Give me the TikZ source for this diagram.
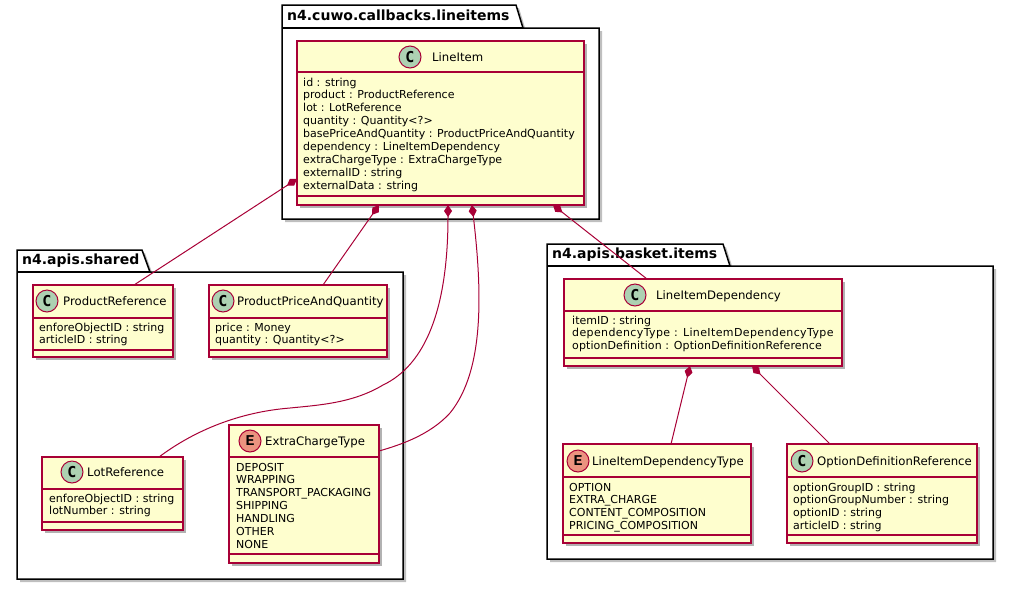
\documentclass[tikz,border=0pt]{standalone}
\usepackage{fontspec}
\setmainfont{DejaVu Sans}
\newfontfamily\circfont{DejaVu Sans Mono}
\newfontfamily\enumfont{Liberation Mono}
\usetikzlibrary{arrows.meta,shadows}
\definecolor{umlred}{HTML}{A80036}
\definecolor{umlfill}{HTML}{FEFECE}
\definecolor{cgreen}{HTML}{ADD1B2}
\definecolor{eorange}{HTML}{EB937F}
\tikzset{
  cbox/.style={draw=umlred, line width=1.5pt, fill=umlfill, inner sep=0pt, outer sep=0pt, anchor=north west,
    drop shadow={shadow xshift=3pt, shadow yshift=-3pt, fill=black, opacity=0.3}},
  cline/.style={draw=umlred, line width=1.5pt},
  circC/.style={circle, draw=umlred, line width=1pt, fill=cgreen, minimum size=22pt, inner sep=0pt,
    font=\circfont\bfseries\fontsize{15}{15}\selectfont},
  circE/.style={circle, draw=umlred, line width=1pt, fill=eorange, minimum size=22pt, inner sep=0pt,
    font=\enumfont\bfseries\fontsize{15}{15}\selectfont},
  cname/.style={anchor=base west, inner sep=0pt, font=\fontsize{11.7}{14}\selectfont},
  attr/.style={anchor=base west, inner sep=0pt, font=\fontsize{11}{13}\selectfont},
  pline/.style={draw=black, line width=1.5pt, line join=miter},
  ptitle/.style={anchor=base west, inner sep=0pt, font=\bfseries\fontsize{14}{16}\selectfont},
  comp/.style={draw=umlred, line width=1pt, arrows={Diamond[length=12pt,width=8pt]-}},
}
% package: #1 name, #2 title, #3 x1, #4 y1, #5 xt, #6 xs, #7 ytb, #8 x2, #9 y2
\newcommand\pkgbox[9]{%
  \fill[black, opacity=0.25, shift={(3,3)}] (#3,#7) -- (#3,#4) -- (#5,#4) -- (#6,#7) -- (#8,#7) -- (#8,#9) -- (#3,#9) -- cycle;
  \draw[pline, fill=white] (#3,#7) -- (#3,#4) -- (#5,#4) -- (#6,#7) -- (#8,#7) -- (#8,#9) -- (#3,#9) -- cycle;
  \draw[pline] (#3,#7) -- (#6,#7);
  \node[ptitle] (#1) at (#3+5,#7-7.5) {#2};
}
% class box: #1 name, #2 x1, #3 y1, #4 x2, #5 y2, #6 header bottom, #7 separator
\newcommand\clsbox[7]{%
  \node[cbox, minimum width={#4-#2}, minimum height={#5-#3}] (#1) at (#2,#3) {};
  \draw[cline] (#2,#6) -- (#4,#6);
  \draw[cline] (#2,#7) -- (#4,#7);
}
% attributes: #1 prefix, #2 x, #3 first baseline, #4 list
\newcommand\attrs[4]{%
  \foreach \t [count=\i from 0] in {#4} {\node[attr] (#1-\i) at (#2,#3+12.9*\i) {\t};}
}
\begin{document}
\begin{tikzpicture}[x=1pt,y=-1pt]
\useasboundingbox (0,0) rectangle (1014,590);

% packages
\pkgbox{pkgcuwo}{n4.cuwo.callbacks.lineitems}{282}{5}{516}{523}{28}{599}{219}
\pkgbox{pkgshared}{n4.apis.shared}{17}{250}{142}{150}{272}{403}{579}
\pkgbox{pkgbasket}{n4.apis.basket.items}{547}{244}{723}{730}{266}{993}{559}

% LineItem
\clsbox{li}{297}{41}{584}{205}{72}{196}
\node[circC] (li-c) at (410,57) {C};
\node[cname] (li-n) at (432,61.5) {LineItem};
\attrs{li-a}{303}{86}{id : string,product : ProductReference,lot : LotReference,quantity : Quantity<?>,basePriceAndQuantity : ProductPriceAndQuantity,dependency : LineItemDependency,extraChargeType : ExtraChargeType,externalID : string,externalData : string}

% ProductReference
\clsbox{pr}{33}{285}{173}{357}{318}{350}
\node[circC] (pr-c) at (47,301) {C};
\node[cname] (pr-n) at (63,305.5) {ProductReference};
\attrs{pr-a}{39}{331}{enforeObjectID : string,articleID : string}

% ProductPriceAndQuantity
\clsbox{ppq}{209}{285}{387}{357}{318}{350}
\node[circC] (ppq-c) at (223,301) {C};
\node[cname] (ppq-n) at (237,305.5) {ProductPriceAndQuantity};
\attrs{ppq-a}{215}{331}{price : Money,quantity : Quantity<?>}

% LotReference
\clsbox{lot}{42}{457}{183}{530}{489}{522}
\node[circC] (lot-c) at (72,472) {C};
\node[cname] (lot-n) at (87,476.5) {LotReference};
\attrs{lot-a}{49}{502}{enforeObjectID : string,lotNumber : string}

% ExtraChargeType
\clsbox{ect}{229}{425}{379}{563}{457}{554}
\node[circE] (ect-c) at (250,441) {E};
\node[cname] (ect-n) at (265,445.5) {ExtraChargeType};
\attrs{ect-a}{236}{471}{DEPOSIT,WRAPPING,TRANSPORT\_PACKAGING,SHIPPING,HANDLING,OTHER,NONE}

% LineItemDependency
\clsbox{lid}{564}{279}{842}{366}{311}{358}
\node[circC] (lid-c) at (635,295) {C};
\node[cname] (lid-n) at (656,299.5) {LineItemDependency};
\attrs{lid-a}{572}{324}{itemID : string,{\addfontfeature{LetterSpace=3.5}dependencyType : LineItemDependencyType},{\addfontfeature{LetterSpace=1}optionDefinition : OptionDefinitionReference}}

% LineItemDependencyType
\clsbox{lidt}{563}{444}{751}{543}{477}{535}
\node[circE] (lidt-c) at (578,461) {E};
\node[cname] (lidt-n) at (592,465.5) {LineItemDependencyType};
\attrs{lidt-a}{569}{491}{OPTION,EXTRA\_CHARGE,CONTENT\_COMPOSITION,PRICING\_COMPOSITION}

% OptionDefinitionReference
\clsbox{odr}{787}{444}{977}{543}{477}{535}
\node[circC] (odr-c) at (802,461) {C};
\node[cname] (odr-n) at (817,465.5) {OptionDefinitionReference};
\attrs{odr-a}{793}{491}{optionGroupID : string,optionGroupNumber : string,optionID : string,articleID : string}

% connectors (composition)
\draw[comp] ([yshift=26pt]li.south west) -- ([xshift=101pt]pr.north west);
\draw[comp] ([xshift=82pt]li.south west) -- ([xshift=114pt]ppq.north west);
\draw[comp] ([xshift=151pt]li.south west) .. controls (448,310) and (425,365) .. (383,385)
   .. controls (353,403) and (320,405) .. (290,408)
   .. controls (240,412) and (195,430) .. ([xshift=117pt]lot.north west);
\draw[comp] ([xshift=175pt]li.south west) .. controls (482,290) and (485,370) .. (450,413)
   .. controls (430,435) and (400,445) .. ([yshift=-26pt]ect.north east);
\draw[comp] ([xshift=256pt]li.south west) -- ([xshift=83pt]lid.north west);
\draw[comp] ([xshift=126pt]lid.south west) -- ([xshift=108pt]lidt.north west);
\draw[comp] ([xshift=188pt]lid.south west) -- ([xshift=43pt]odr.north west);
\end{tikzpicture}
\end{document}
